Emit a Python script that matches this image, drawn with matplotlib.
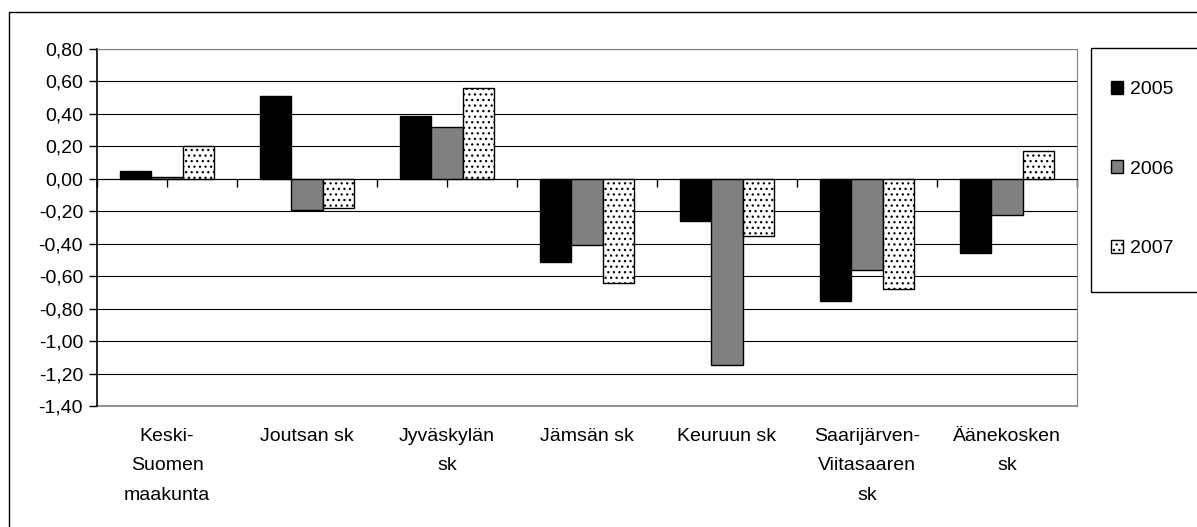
import numpy as np
import matplotlib
matplotlib.use("Agg")
from matplotlib import pyplot as plt
from matplotlib.patches import Rectangle, Patch
from matplotlib.transforms import blended_transform_factory

plt.rcParams['font.family'] = ['Liberation Sans', 'DejaVu Sans']
plt.rcParams['hatch.linewidth'] = 0.9

# data
categories = ["Keski-\nSuomen\nmaakunta", "Joutsan sk", "Jyväskylän\nsk", "Jämsän sk",
              "Keuruun sk", "Saarijärven-\nViitasaaren\nsk", "Äänekosken\nsk"]
years = ["2005", "2006", "2007"]
v2005 = [0.05, 0.51, 0.39, -0.51, -0.26, -0.75, -0.46]
v2006 = [0.01, -0.19, 0.32, -0.41, -1.15, -0.56, -0.22]
v2007 = [0.20, -0.18, 0.56, -0.64, -0.35, -0.68, 0.17]
yticks = np.round(np.arange(-1.4, 0.81, 0.2), 2)

FS = 14

fig = plt.figure(figsize=(11.97, 5.27), dpi=100)
ax = fig.add_axes([97/1197, 1-406/527, 980/1197, 357/527])

x = np.arange(len(categories))
w = 1/4.5
ax.bar(x - w, v2005, w, color="black", edgecolor="black", linewidth=1, zorder=3)
ax.bar(x, v2006, w, color="#808080", edgecolor="black", linewidth=1, zorder=3)
ax.bar(x + w, v2007, w, color="white", edgecolor="black", hatch="...", linewidth=1, zorder=3)

ax.set_xlim(-0.5, 6.5)
ax.set_ylim(-1.4, 0.8)
ax.set_yticks(yticks)
ax.set_yticklabels([f"{v + 0.0:.2f}".replace(".", ",") for v in yticks], fontsize=FS)
ax.tick_params(axis="y", length=6, width=1, color="black", pad=4)
ax.yaxis.grid(True, color="black", linewidth=0.8, zorder=0)

# x-akseli nollan kohdalla
ax.spines["bottom"].set_position(("data", 0))
ax.spines["bottom"].set_color("black")
ax.spines["bottom"].set_zorder(4)
ax.set_xticks(np.arange(-0.5, 6.51, 0.5))
ax.set_xticklabels([])
ax.tick_params(axis="x", length=6, width=1, direction="out", color="black")
ax.spines["left"].set_color("black")
ax.spines["left"].set_linewidth(1.2)
ax.spines["top"].set_color("#808080")
ax.spines["right"].set_color("#808080")
ax.plot([0, 1], [0, 0], transform=ax.transAxes, color="#808080", lw=1.2, clip_on=False)

trans = blended_transform_factory(ax.transData, ax.transAxes)
for i, c in enumerate(categories):
    ax.text(i, -0.062, c, transform=trans, ha="center", va="top", fontsize=FS,
            linespacing=1.95)

# legend
fig.patches.append(Rectangle((1091/1197, 1-292/527), 0.2, 244/527, transform=fig.transFigure,
                             facecolor="white", edgecolor="black", linewidth=1))
handles = [Patch(facecolor="black", edgecolor="black"),
           Patch(facecolor="#808080", edgecolor="black"),
           Patch(facecolor="white", edgecolor="black", hatch="...")]
fig.legend(handles, years, loc="upper left", bbox_to_anchor=(1103/1197, 1-73/527),
           frameon=False, fontsize=FS, handlelength=0.65, handleheight=0.65,
           handletextpad=0.35, labelspacing=3.2, borderaxespad=0)

# ulkokehys
fig.patches.append(Rectangle((9/1197, -0.1), 1.2, 1.1 - 12/527,
                             transform=fig.transFigure, facecolor="none",
                             edgecolor="black", linewidth=1))

fig.savefig("out.png", dpi=100)
